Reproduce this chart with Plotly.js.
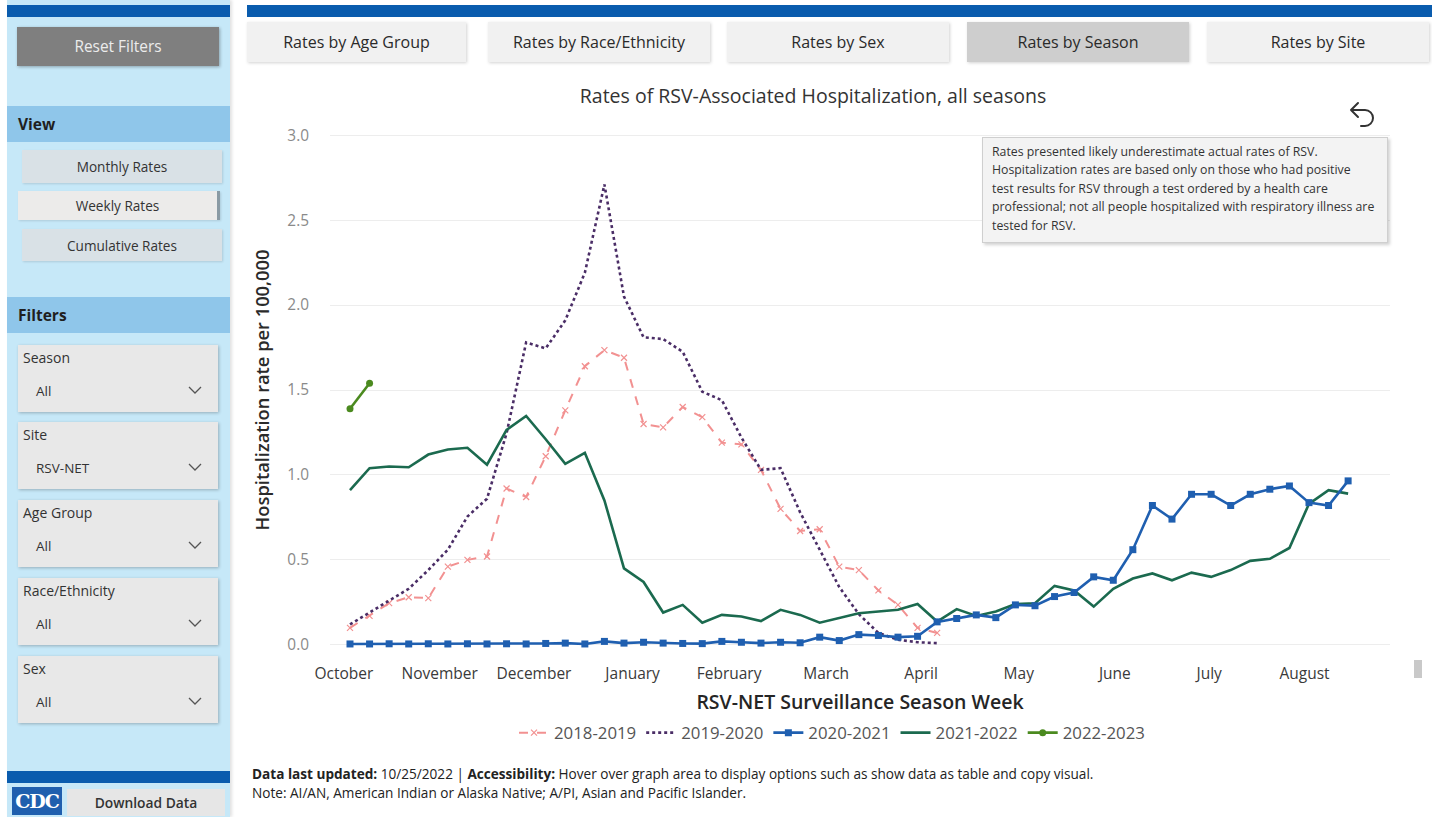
<!DOCTYPE html>
<html>
<head>
<meta charset="utf-8">
<script src="https://cdn.plot.ly/plotly-3.0.1.min.js"></script>
<style>
  html, body { margin:0; padding:0; background:#fff; width:1432px; height:817px; overflow:hidden; font-family:"Open Sans","Noto Sans",sans-serif; }
  .abs { position:absolute; box-sizing:border-box; }
  #side { left:7px; top:0; width:223px; height:817px; background:#c6e8f8; box-shadow:2px 0 3px rgba(0,0,0,0.12); }
  .bar { background:#0a5cae; }
  .hdr { background:#8fc6ea; color:#1f1f1f; font-weight:700; font-size:15.5px; padding-left:11px; display:flex; align-items:center; }
  .vbtn { background:#d9e1e6; color:#333; font-size:13.6px; display:flex; align-items:center; justify-content:center; box-shadow:1px 1px 2px rgba(0,0,0,0.12); }
  .fbox { background:#e8e8e8; box-shadow:1px 1px 3px rgba(0,0,0,0.25); }
  .flab { position:absolute; left:5px; top:3px; font-size:14px; color:#333; }
  .fval { position:absolute; left:18px; top:37px; font-size:13.5px; color:#333; }
  .chev { position:absolute; right:16px; top:41px; }
  .tab { background:#f1f1f1; color:#2a2a2a; font-size:16px; display:flex; align-items:center; justify-content:center; box-shadow:1px 1px 3px rgba(0,0,0,0.18); top:22px; height:40px; width:222px; }
  #plot { left:240px; top:70px; width:1192px; height:680px; }
  #note { left:982px; top:137px; width:406px; height:106px; background:#f3f3f3; border:1px solid #cfcfcf; box-shadow:2px 2px 3px rgba(0,0,0,0.18); font-size:12.3px; line-height:18.4px; color:#333; padding:5px 9px; white-space:nowrap; overflow:hidden; }
  .foot { font-size:13.6px; color:#222; left:252px; white-space:nowrap; }
</style>
</head>
<body>
<!-- sidebar -->
<div id="side" class="abs"></div>
<div class="abs bar" style="left:7px;top:5px;width:223px;height:12px;"></div>
<div class="abs" style="left:17px;top:27px;width:202px;height:39px;background:#7f7f7f;color:#ececec;font-size:15.4px;display:flex;align-items:center;justify-content:center;box-shadow:1px 1px 3px rgba(0,0,0,0.3);">Reset Filters</div>
<div class="abs hdr" style="left:7px;top:106px;width:223px;height:36px;">View</div>
<div class="abs vbtn" style="left:22px;top:150px;width:200px;height:33px;">Monthly Rates</div>
<div class="abs vbtn" style="left:18px;top:191px;width:202px;height:29px;background:#ecebea;border-right:3px solid #8a9aa4;">Weekly Rates</div>
<div class="abs vbtn" style="left:22px;top:229px;width:200px;height:32px;">Cumulative Rates</div>
<div class="abs hdr" style="left:7px;top:297px;width:223px;height:36px;">Filters</div>

<div class="abs fbox" style="left:18px;top:345px;width:200px;height:67px;"><span class="flab">Season</span><span class="fval">All</span><svg class="chev" width="14" height="8"><polyline points="1,1 7,7 13,1" fill="none" stroke="#555" stroke-width="1.3"/></svg></div>
<div class="abs fbox" style="left:18px;top:422px;width:200px;height:67px;"><span class="flab">Site</span><span class="fval">RSV-NET</span><svg class="chev" width="14" height="8"><polyline points="1,1 7,7 13,1" fill="none" stroke="#555" stroke-width="1.3"/></svg></div>
<div class="abs fbox" style="left:18px;top:500px;width:200px;height:67px;"><span class="flab">Age Group</span><span class="fval">All</span><svg class="chev" width="14" height="8"><polyline points="1,1 7,7 13,1" fill="none" stroke="#555" stroke-width="1.3"/></svg></div>
<div class="abs fbox" style="left:18px;top:578px;width:200px;height:67px;"><span class="flab">Race/Ethnicity</span><span class="fval">All</span><svg class="chev" width="14" height="8"><polyline points="1,1 7,7 13,1" fill="none" stroke="#555" stroke-width="1.3"/></svg></div>
<div class="abs fbox" style="left:18px;top:656px;width:200px;height:67px;"><span class="flab">Sex</span><span class="fval">All</span><svg class="chev" width="14" height="8"><polyline points="1,1 7,7 13,1" fill="none" stroke="#555" stroke-width="1.3"/></svg></div>

<div class="abs bar" style="left:7px;top:771px;width:223px;height:12px;"></div>
<div class="abs" style="left:12px;top:787px;width:50px;height:28px;background:#1f5fae;color:#fff;font-family:'DejaVu Serif','Liberation Serif',serif;font-weight:700;font-size:19px;display:flex;align-items:center;justify-content:center;letter-spacing:-1px;">CDC</div>
<div class="abs" style="left:67px;top:789px;width:158px;height:27px;background:#e6e6e6;color:#333;font-weight:600;font-size:13.8px;display:flex;align-items:center;justify-content:center;">Download Data</div>

<!-- top bar and tabs -->
<div class="abs bar" style="left:247px;top:5px;width:1185px;height:12px;"></div>
<div class="abs tab" style="left:247px;width:219px;">Rates by Age Group</div>
<div class="abs tab" style="left:488px;">Rates by Race/Ethnicity</div>
<div class="abs tab" style="left:727px;">Rates by Sex</div>
<div class="abs tab" style="left:967px;background:#cecece;">Rates by Season</div>
<div class="abs tab" style="left:1207px;">Rates by Site</div>

<div id="plot" class="abs"></div>

<div id="note" class="abs">Rates presented likely underestimate actual rates of RSV.<br>Hospitalization rates are based only on those who had positive<br>test results for RSV through a test ordered by a health care<br>professional; not all people hospitalized with respiratory illness are<br>tested for RSV.</div>

<svg class="abs" style="left:1344px;top:98px;" width="36" height="36" viewBox="0 0 36 36">
  <path d="M7 12 L14 5 M7 12 L14 19 M7 12 H21 A8 8 0 0 1 21 28 H17" fill="none" stroke="#333" stroke-width="2" stroke-linecap="round" stroke-linejoin="round"/>
</svg>
<div class="abs" style="left:1414px;top:660px;width:8px;height:18px;background:#c9c9c9;"></div>

<div class="abs foot" style="top:764px;"><b>Data last updated:</b> 10/25/2022 | <b>Accessibility:</b> Hover over graph area to display options such as show data as table and copy visual.</div>
<div class="abs foot" style="top:783px;">Note: AI/AN, American Indian or Alaska Native; A/PI, Asian and Pacific Islander.</div>

<script>
// Surveillance season week index (week 0 = first week of October)
const weeks = [0,1,2,3,4,5,6,7,8,9,10,11,12,13,14,15,16,17,18,19,20,21,22,23,24,25,26,27,28,29,30,31,32,33,34,35,36,37,38,39,40,41,42,43,44,45,46,47,48,49,50,51];

const monthLabels = ["October","November","December","January","February","March","April","May","June","July","August"];
const monthTickWeeks = [-0.31,4.58,9.4,14.44,19.37,24.33,29.18,34.17,39.08,43.9,48.77];

const rate2018_2019 = [0.10,0.17,0.245,0.28,0.275,0.46,0.50,0.52,0.92,0.87,1.11,1.38,1.64,1.735,1.69,1.30,1.28,1.40,1.34,1.19,1.18,1.03,0.80,0.67,0.68,0.46,0.44,0.32,0.235,0.10,0.07];
const rate2019_2020 = [0.12,0.19,0.265,0.33,0.44,0.56,0.755,0.86,1.245,1.78,1.745,1.91,2.19,2.71,2.05,1.81,1.80,1.725,1.49,1.44,1.22,1.03,1.04,0.78,0.56,0.34,0.18,0.07,0.03,0.015,0.01];
const rate2020_2021 = [0.005,0.005,0.006,0.005,0.006,0.005,0.006,0.005,0.006,0.005,0.008,0.01,0.005,0.02,0.01,0.015,0.01,0.008,0.007,0.02,0.015,0.01,0.015,0.012,0.045,0.025,0.06,0.055,0.045,0.05,0.135,0.155,0.176,0.16,0.235,0.23,0.284,0.308,0.40,0.38,0.56,0.82,0.74,0.886,0.886,0.82,0.886,0.916,0.935,0.837,0.82,0.965];
const rate2021_2022 = [0.91,1.04,1.05,1.045,1.12,1.15,1.16,1.06,1.265,1.347,1.21,1.065,1.13,0.85,0.45,0.37,0.19,0.235,0.13,0.176,0.167,0.14,0.206,0.176,0.13,0.157,0.186,0.196,0.206,0.24,0.137,0.21,0.17,0.196,0.24,0.245,0.347,0.32,0.225,0.33,0.39,0.42,0.38,0.425,0.40,0.44,0.494,0.506,0.57,0.83,0.91,0.89];
const rate2022_2023 = [1.39,1.54];

const seasonNames = ["2018-2019","2019-2020","2020-2021","2021-2022","2022-2023"];

const traces = [
  {x: weeks.slice(0, rate2018_2019.length), y: rate2018_2019, name: seasonNames[0], type:'scatter', mode:'lines+markers',
   line:{color:'#f29191', width:2, dash:'dash'}, marker:{symbol:'x-thin-open', size:6, color:'#f29191', line:{color:'#f29191', width:1.2}}, legendrank:1},
  {x: weeks.slice(0, rate2019_2020.length), y: rate2019_2020, name: seasonNames[1], type:'scatter', mode:'lines',
   line:{color:'#4a2d66', width:2.6, dash:'dot'}, legendrank:2},
  {x: weeks.slice(0, rate2021_2022.length), y: rate2021_2022, name: seasonNames[3], type:'scatter', mode:'lines',
   line:{color:'#1b6a4f', width:2.6}, legendrank:4},
  {x: weeks.slice(0, rate2020_2021.length), y: rate2020_2021, name: seasonNames[2], type:'scatter', mode:'lines+markers',
   line:{color:'#1f5fb0', width:2.6}, marker:{symbol:'square', size:7, color:'#1f5fb0'}, legendrank:3},
  {x: weeks.slice(0, rate2022_2023.length), y: rate2022_2023, name: seasonNames[4], type:'scatter', mode:'lines+markers',
   line:{color:'#4b8a1f', width:2.6}, marker:{symbol:'circle', size:7, color:'#4b8a1f'}, legendrank:5}
];

const layout = {
  width:1192, height:680,
  margin:{l:90, r:42, t:55, b:95, pad:0, autoexpand:false},
  paper_bgcolor:'rgba(0,0,0,0)', plot_bgcolor:'rgba(0,0,0,0)',
  font:{family:'"Open Sans","Noto Sans",sans-serif', color:'#333'},
  title:{text:'Rates of RSV-Associated Hospitalization, all seasons', x:0.4807, xanchor:'center', y:0.962, yanchor:'middle', xref:'container', yref:'container',
         font:{size:19.5, color:'#333'}},
  xaxis:{range:[-1.022, 53.14], tickvals: monthTickWeeks, ticktext: monthLabels, showgrid:false, zeroline:false, showline:false,
         ticks:'', tickfont:{size:15.5, color:'#3a3a3a'}, ticklabelstandoff:7, fixedrange:true, automargin:false,
         title:{text:'RSV-NET Surveillance Season Week', font:{size:19.5, color:'#252525', weight:600}, standoff:12}},
  yaxis:{range:[-0.06, 3.06], tickvals:[0,0.5,1,1.5,2,2.5,3], ticktext:['0.0','0.5','1.0','1.5','2.0','2.5','3.0'],
         showgrid:true, gridcolor:'#ededed', gridwidth:1, zeroline:false, showline:false, ticks:'', automargin:false,
         tickfont:{size:15.4, color:'#8a8a8a'}, ticklabelstandoff:20, fixedrange:true,
         title:{text:'Hospitalization rate per 100,000', font:{size:18.3, color:'#2a2a2a', weight:600}, standoff:12}},
  showlegend:true,
  legend:{orientation:'h', x:0.4736, xanchor:'center', y:-0.1467, yanchor:'middle', font:{size:16.8, color:'#555'},
          traceorder:'normal', itemwidth:30, bgcolor:'rgba(0,0,0,0)'},
  hovermode:false
};

Plotly.newPlot('plot', traces, layout, {displayModeBar:false, staticPlot:true});
</script>
</body>
</html>
